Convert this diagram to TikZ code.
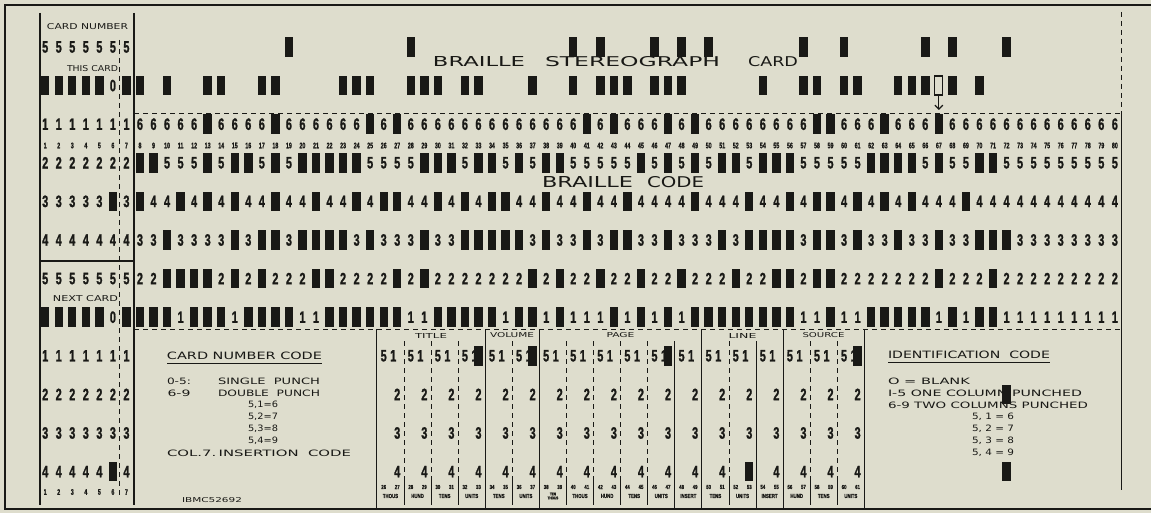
\documentclass[tikz,border=0pt]{standalone}
\usepackage{fontspec}
\usepackage{graphicx}
\usetikzlibrary{arrows.meta}
\setmainfont{Liberation Sans}
\newfontfamily\digf{Liberation Sans}[FakeStretch=0.66,BoldFeatures={FakeBold=1.2}]
\newfontfamily\smf{Liberation Sans}[FakeStretch=0.75,BoldFeatures={FakeBold=0.8}]
\newfontfamily\labf{DejaVu Sans}
\definecolor{card}{RGB}{222,221,205}
\definecolor{ink}{RGB}{25,25,22}
\newcommand\Rz[3]{\resizebox{#1pt}{#2pt}{\labf #3}}
\pgfmathdeclarefunction{cx}{1}{\pgfmathparse{45.2+13.54*(#1-1)}}
\pgfmathdeclarefunction{ry}{1}{\pgfmathparse{47+38.6*#1}}
\newcommand\pch[2]{\fill[ink] ({cx(#1)-4.2},{ry(#2)-9.8}) rectangle ({cx(#1)+4.2},{ry(#2)+9.8});}
\newcommand\drow[3]{%
  \foreach \c in {8,...,80}{\node[dig] (n#1-\c) at ({cx(\c)},{ry(#1)}) {#2};}
  \foreach \c in {#3}{\pch{\c}{#1}}}
\begin{document}
\begin{tikzpicture}[x=1pt,y=-1pt,
  dig/.style={inner sep=0,text=ink,font=\digf\bfseries\fontsize{16.5}{16.5}\selectfont},
  sm/.style={inner sep=0,text=ink,font=\digf\bfseries\fontsize{8}{8}\selectfont},
  tinyl/.style={inner sep=0,text=ink,font=\smf\bfseries\fontsize{5.8}{5.8}\selectfont,align=center},
  lab/.style={inner sep=0,text=ink},
  rul/.style={draw=ink,line width=0.9pt},
  dline/.style={draw=ink,line width=0.8pt,dash pattern=on 5pt off 4pt}]
\useasboundingbox (0,0) rectangle (1151,513);
\fill[card] (0,0) rectangle (1151,513);
% card border
\draw[ink,line width=2pt] (1151,5) -- (5,5) -- (5,509) -- (1151,509);
% left box
\draw[rul,line width=1.2pt] (40,13) -- (40,505);
\draw[rul,line width=1.2pt] (134,13) -- (134,505);
\draw[rul,line width=1.8pt] (40,261) -- (134,261);
\draw[dline,line width=0.7pt] (119.5,40) -- (119.5,498);
% main dashed lines
\draw[dline] (134,113) -- (1121,113);
\draw[dline] (134,329) -- (1121,329);
\draw[dline] (1121,12) -- (1121,113);
\draw[rul] (1121,113) -- (1121,490);
% titles
\node[lab] (t1) at (479,62) {\Rz{92}{10}{BRAILLE}};
\node[lab] (t2) at (632.5,62) {\Rz{175}{10}{STEREOGRAPH}};
\node[lab] (t3) at (773,62) {\Rz{50}{10}{CARD}};
\node[lab] (bc1) at (587.5,182.5) {\Rz{91}{11}{BRAILLE}};
\node[lab] (bc2) at (675.5,182.5) {\Rz{57}{11}{CODE}};
\node[lab] (cn) at (87.5,26.5) {\Rz{81}{6}{CARD NUMBER}};
\node[lab] (tc) at (92.5,69) {\Rz{51}{6}{THIS CARD}};
\node[lab] (nc) at (85.5,299) {\Rz{65}{6}{NEXT CARD}};
% left box digits
\foreach \r/\d in {0/5,2/1,3/2,4/3,5/4,6/5,8/1,9/2,10/3,11/4}{
  \foreach \c in {1,...,7}{\node[dig] (l\r-\c) at ({cx(\c)},{ry(\r)}) {\d};}}
\foreach \r in {1,7}{
  \node[dig] (z\r) at ({cx(6)},{ry(\r)}) {0};
  \foreach \c in {1,2,3,4,5,7}{\pch{\c}{\r}}}
\pch{6}{4}
\pch{6}{11}
% column numbers
\foreach \c in {1,...,80}{\node[sm] (cn\c) at ({cx(\c)},145.5) {\c};}
\foreach \c in {1,...,7}{\node[sm] (bn\c) at ({cx(\c)},492) {\c};}
% row A and B punches
\foreach \c in {19,28,40,42,46,48,50,57,60,66,68,72}{\pch{\c}{0}}
\foreach \c in {8,10,13,14,17,18,23,24,25,28,29,30,32,33,37,40,42,43,44,46,47,48,54,57,58,60,61,64,65,66,68,70}{\pch{\c}{1}}
\draw[ink,line width=1.2pt] ({cx(67)-4},{ry(1)-9.5}) rectangle ({cx(67)+4},{ry(1)+9.5});
\coordinate (ar1) at ({cx(67)},96);
\coordinate (ar2) at ({cx(67)},110);
\draw[ink,line width=1.2pt,-{Straight Barb[length=4pt,width=8pt]}] (ar1) -- (ar2);
% main rows
\drow{2}{6}{13,18,25,27,41,43,47,49,58,59,63,67}
\drow{3}{5}{8,9,13,15,16,18,20,21,22,23,24,29,30,31,33,34,36,38,39,45,47,49,51,52,54,55,56,62,63,64,65,67,70,71}
\drow{4}{4}{8,11,13,15,18,21,24,26,27,30,32,34,35,38,41,44,49,53,56,58,59,61,63,65,69}
\drow{5}{3}{10,15,17,18,20,21,22,23,25,29,32,33,34,35,36,38,41,43,44,47,51,53,54,55,56,58,59,61,64,67,70,71,72}
\drow{6}{2}{10,11,12,13,15,17,21,22,27,29,37,39,42,45,48,52,55,56,58,59,67,71}
\drow{7}{1}{8,9,10,12,13,14,16,17,18,19,22,23,24,25,26,27,30,31,32,33,34,36,37,39,43,45,47,49,50,51,52,53,54,55,56,59,62,63,64,65,66,68,70,71}
% bottom section
\foreach \c in {25,33,37,49,55,61}{\draw[rul] ({cx(\c)+6.77},329) -- ({cx(\c)+6.77},509);}
\foreach \c in {47,53}{\draw[rul] ({cx(\c)+6.77},341) -- ({cx(\c)+6.77},509);}
\foreach \c in {27,29,31,35,39,41,43,45,51,57,59}{
  \draw[dline,line width=0.7pt] ({cx(\c)+6.77},341) -- ({cx(\c)+6.77},480);
  \draw[rul,line width=0.7pt] ({cx(\c)+6.77},480) -- ({cx(\c)+6.77},505);}
\node[lab] (hT) at (431,335.5) {\Rz{32}{5}{TITLE}};
\node[lab] (hV) at (512,335.5) {\Rz{44}{5}{VOLUME}};
\node[lab] (hP) at (620.5,335.5) {\Rz{28}{5}{PAGE}};
\node[lab] (hL) at (742.5,335.5) {\Rz{28}{5}{LINE}};
\node[lab] (hS) at (823.5,335.5) {\Rz{42}{5}{SOURCE}};
\foreach \e in {26,28,...,60}{
  \pgfmathtruncatemacro\o{\e+1}
  \node[dig] (p5-\e) at ({cx(\e)},{ry(8)}) {5};
  \node[dig] (p1-\e) at ({cx(\o)-4},{ry(8)}) {1};
  \node[dig] (p2-\e) at ({cx(\o)},{ry(9)}) {2};
  \node[dig] (p3-\e) at ({cx(\o)},{ry(10)}) {3};
  \node[dig] (p4-\e) at ({cx(\o)},{ry(11)}) {4};
  \node[tinyl] (q\e) at ({cx(\e)},487) {\e};
  \node[tinyl] (q\o) at ({cx(\o)},487) {\o};}
\foreach \e/\t in {26/THOUS,28/HUND,30/TENS,32/UNITS,34/TENS,36/UNITS,40/THOUS,42/HUND,44/TENS,46/UNITS,48/INSERT,50/TENS,52/UNITS,54/INSERT,56/HUND,58/TENS,60/UNITS}{
  \node[tinyl] (s\e) at ({cx(\e)+6.77},496) {\t};}
\node[tinyl,font=\smf\bfseries\fontsize{4}{4}\selectfont] (s38) at ({cx(38)+6.77},496) {TEN\\THOUS};
\foreach \c in {33,37,47,61}{\pch{\c}{8}}
\pch{53}{11}
% card number code text
\node[lab] (cc) at (244.5,356) {\Rz{155}{7.5}{CARD NUMBER CODE}};
\draw[ink,line width=1pt] (167,363.5) -- (322,363.5);
\node[lab] (c1a) at (179,381) {\Rz{24}{6.5}{0-5:}};
\node[lab] (c1b) at (269,381) {\Rz{102}{6.5}{SINGLE\ \ PUNCH}};
\node[lab] (c2a) at (179,393) {\Rz{23}{6.5}{6-9}};
\node[lab] (c2b) at (269,393) {\Rz{102}{6.5}{DOUBLE\ \ PUNCH}};
\node[lab] (c3) at (263,405) {\Rz{30}{6.5}{5,1=6}};
\node[lab] (c4) at (263,417) {\Rz{30}{6.5}{5,2=7}};
\node[lab] (c5) at (263,429) {\Rz{30}{6.5}{5,3=8}};
\node[lab] (c6) at (263,441) {\Rz{30}{6.5}{5,4=9}};
\node[lab] (c7) at (259,453) {\Rz{184}{6.5}{COL.7.\,INSERTION\ \ CODE}};
\node[lab] (ibm) at (212,500) {\Rz{60}{5}{IBMC52692}};
% identification code text
\node[lab] (ic) at (969,355) {\Rz{162}{7.5}{IDENTIFICATION\ \ CODE}};
\draw[ink,line width=1pt] (888,362.5) -- (1050,362.5);
\node[lab] (i1) at (929,381) {\Rz{82}{6.5}{O\ =\ BLANK}};
\node[lab] (i2) at (985,393) {\Rz{194}{6.5}{I-5 ONE COLUMN PUNCHED}};
\node[lab] (i3) at (988,405) {\Rz{200}{6.5}{6-9 TWO COLUMNS PUNCHED}};
\node[lab] (i4) at (993,417) {\Rz{42}{6.5}{5, 1 = 6}};
\node[lab] (i5) at (993,429) {\Rz{42}{6.5}{5, 2 = 7}};
\node[lab] (i6) at (993,441) {\Rz{42}{6.5}{5, 3 = 8}};
\node[lab] (i7) at (993,453) {\Rz{42}{6.5}{5, 4 = 9}};
\pch{72}{9}
\pch{72}{11}
\end{tikzpicture}
\end{document}
